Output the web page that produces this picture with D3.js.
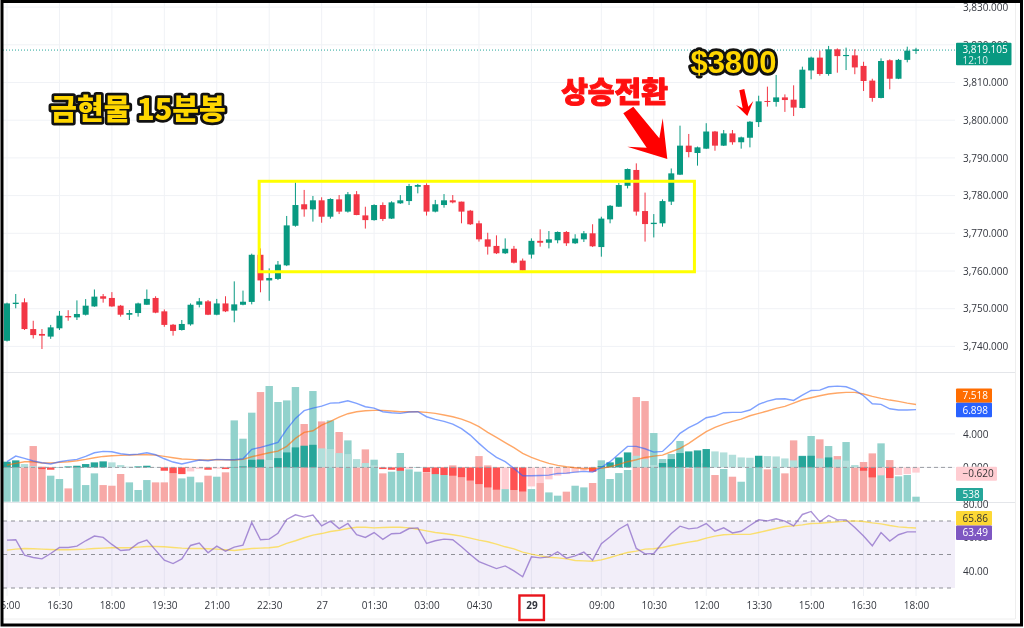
<!DOCTYPE html>
<html>
<head>
<meta charset="utf-8">
<script src="https://cdn.jsdelivr.net/npm/d3@7"></script>
<style>
  html, body { margin: 0; padding: 0; background: #fff; }
  svg { display: block; filter: blur(0.35px); }
  text { font-family: "Open Sans", "Noto Sans", sans-serif; }
</style>
</head>
<body>
<svg id="chart" width="1024" height="628"></svg>
<script>
// 15 minute candles
const opens = [3741.5,3751.25,3751.7,3744.6,3743.3,3742.6,3744.8,3748.05,3747.7,3748.4,3750.6,3753.3,3752.85,3750.8,3748.4,3748.85,3751.05,3752.85,3749.3,3745.75,3744.35,3745.85,3751.05,3751.95,3748.4,3751.4,3749.5,3751.05,3751.8,3764.3,3757.5,3757.9,3761.5,3772,3777.7,3776.35,3778.75,3774.4,3779,3775.75,3780.35,3774.75,3773.5,3777.5,3773.9,3777.95,3778.55,3782.35,3782.8,3775.75,3777.5,3778.75,3778.4,3776,3772.65,3768.4,3766.65,3764.7,3765.9,3762.75,3764.35,3768,3767.5,3768.15,3770.35,3767.35,3768.4,3770,3766.35,3773.7,3777.05,3782.6,3786.8,3775.9,3772.45,3772.65,3778.4,3785.55,3793.25,3791.3,3792.45,3797,3793.25,3796.5,3794.15,3795.35,3799.5,3805.1,3804.85,3806.05,3805.45,3803.25,3813.2,3816.6,3812.25,3818.8,3817,3817.2,3814.4,3810.5,3805.9,3815.9,3811,3816,3818.4];
const closes = [3751.4,3751.6,3744.6,3743,3742.85,3745.05,3748.15,3747.7,3748.6,3750.8,3753.2,3752.65,3750.6,3748.4,3748.85,3751.4,3752.6,3748.95,3745.7,3744.1,3745.95,3751.05,3751.95,3748.4,3751.4,3749.3,3751.15,3751.85,3764.3,3757.5,3758.15,3761.7,3772.1,3777.5,3776.35,3778.75,3774.4,3779.1,3775.75,3780.35,3774.85,3773.5,3777.5,3773.8,3778.2,3778.75,3782.55,3782.8,3775.75,3777.7,3778.75,3778.2,3775.75,3772.4,3768.4,3766.45,3764.7,3765.9,3762.2,3760.1,3768,3767.5,3768.4,3770.35,3767.35,3768.6,3770,3766.55,3773.9,3777.3,3782.8,3787.05,3775.75,3772.45,3772.8,3778.55,3785.9,3793.25,3791.55,3792.8,3797,3793.25,3796.5,3794.15,3795.45,3799.6,3805,3804.85,3806.05,3805.35,3803.35,3813.4,3816.6,3812.25,3818.8,3817,3817.3,3814,3810.4,3805.9,3815.7,3811,3816,3818.45,3818.75];
const highs = [3751.6,3753.9,3752.75,3746.8,3744.6,3745.7,3749.4,3749.6,3752.2,3752.55,3755.1,3753.9,3754.4,3751,3749.65,3751.6,3755.1,3753.3,3749.8,3745.95,3747,3751.4,3752.85,3752.3,3752.6,3753.3,3757.25,3754.8,3764.6,3766,3760.7,3762.65,3774.6,3783.5,3781.5,3779.9,3779.55,3779.3,3780.15,3780.95,3781.2,3777.05,3777.7,3778.2,3778.5,3780.15,3783.1,3783.1,3783.25,3778.85,3780.4,3780.15,3778.4,3776.2,3773.35,3770.15,3769.45,3768.65,3766.65,3763.3,3768.65,3771.05,3770.6,3770.5,3770.6,3769.75,3770.6,3772.4,3774.4,3777.5,3783.35,3787.2,3788.55,3780.8,3775.1,3779,3787.2,3798.55,3796.35,3793,3799.2,3797.15,3797.4,3797.4,3795.65,3799.8,3806.5,3808.9,3812,3806.85,3809.25,3814.2,3816.85,3818.45,3819.7,3819.05,3819.25,3818.8,3815.5,3811,3816.4,3816.15,3816.25,3819.5,3819.2];
const lows = [3741.3,3750.1,3744.35,3742.1,3739.3,3742,3744.35,3746.8,3747,3748.2,3750.5,3751.6,3750.5,3747.9,3747,3747.9,3751,3748.8,3745.2,3742.85,3744.2,3745.5,3750.35,3748.3,3748.25,3749.1,3746.4,3750.9,3751.15,3754.35,3752.1,3757.6,3761.3,3771.75,3774.4,3773.1,3772.8,3773.9,3775.1,3775.5,3774.8,3771.25,3773.35,3773.25,3773.8,3777.8,3777.5,3780.6,3774.7,3775.55,3776.8,3777.95,3772.65,3772.2,3767.8,3764.35,3764.5,3764.5,3762,3760.1,3763.3,3766.45,3766,3767.35,3766.65,3767.15,3767.7,3766.35,3763.8,3772.65,3777,3781.9,3774.7,3767.8,3768.9,3771.75,3777.5,3785.45,3790.15,3787.95,3792.35,3791.9,3793.15,3793.5,3792.45,3792.8,3798.2,3803.6,3803.6,3802.2,3801.1,3803.15,3810.85,3811.8,3811.8,3812.6,3813.3,3812.2,3807.75,3804.9,3805.8,3808.2,3810.9,3815.35,3817.6];
const volumes = [3950,4130,3690,5990,3770,2800,2440,1430,3770,1790,3050,1790,1720,2980,2080,1260,2330,2080,2080,3120,2510,2690,2080,2800,2690,3160,8750,6780,9580,11800,12450,10730,10900,12340,8360,11910,8640,8750,7500,6600,3690,5630,4520,3050,3230,5240,3480,3230,3160,2980,2870,3910,2620,2260,4910,3910,1360,1360,1260,1080,1360,2010,1000,650,1080,1720,1540,2010,4450,2440,3080,3410,11260,10830,7390,4590,5130,6530,3590,4130,4130,2870,3520,2690,2150,3690,4480,3480,3690,3050,6600,4950,7070,6710,5990,4910,6420,3690,4270,5200,6280,4480,2730,2870,538];

const macdHist = [0.68,0.84,0.40,0.16,-0.20,-0.28,0.04,0.12,0.20,0.40,0.60,0.72,0.60,0.28,0.08,0.12,0.20,0.02,-0.40,-0.68,-0.80,-0.48,-0.20,-0.28,-0.16,-0.20,0.04,0.12,0.91,0.95,0.88,1.11,1.79,2.39,2.59,2.70,2.27,2.19,1.71,1.59,0.99,0.52,0.24,-0.20,-0.28,-0.40,-0.16,0.04,-0.56,-0.80,-0.91,-0.99,-1.19,-1.59,-1.99,-2.39,-2.66,-2.59,-2.70,-2.90,-2.27,-1.87,-1.43,-0.99,-0.80,-0.60,-0.40,-0.52,0.16,0.60,1.19,1.79,1.39,0.99,0.28,0.52,0.99,1.71,1.91,2.03,2.19,1.91,1.79,1.51,1.19,1.15,1.39,1.35,1.31,1.07,0.84,1.35,1.39,1.07,1.19,0.95,0.80,0.28,-0.40,-1.19,-0.95,-1.27,-0.91,-0.80,-0.62];
const macdLine = [0.68,1.35,1.07,0.76,0.56,0.40,0.68,0.84,0.96,1.31,1.75,1.91,1.87,1.63,1.51,1.59,1.75,1.51,1.03,0.64,0.40,0.64,0.88,0.80,0.96,0.92,0.92,1.03,2.15,2.39,2.67,2.99,4.54,5.85,6.77,7.08,7.32,7.68,7.72,7.96,7.64,7.24,7.08,6.65,6.53,6.45,6.61,6.65,6.05,5.73,5.49,5.17,4.62,3.86,2.87,1.95,1.19,0.68,-0.12,-1.0,-1.0,-0.96,-0.92,-0.72,-0.68,-0.56,-0.48,-0.56,0,0.68,1.59,2.51,2.51,2.23,1.83,1.91,2.87,4.06,4.74,5.25,5.93,6.13,6.53,6.57,6.57,6.85,7.52,7.92,8.16,8.20,8.0,8.64,9.19,9.23,9.63,9.71,9.63,9.23,8.56,7.60,7.52,7.0,6.85,6.85,6.898];
const signalLine = [0.28,0.48,0.68,0.68,0.52,0.52,0.60,0.68,0.80,0.96,1.15,1.31,1.39,1.43,1.47,1.51,1.51,1.47,1.31,1.15,1.0,0.96,0.88,0.88,0.92,0.92,0.88,0.96,1.27,1.51,1.75,1.95,2.51,3.46,4.18,4.38,5.05,5.49,6.01,6.41,6.65,6.77,6.81,6.81,6.73,6.65,6.65,6.65,6.57,6.45,6.25,6.05,5.77,5.37,4.86,4.18,3.58,2.95,2.35,1.67,1.19,0.80,0.48,0.24,0.08,-0.04,-0.16,-0.12,-0.12,0.08,0.36,0.68,0.92,1.19,1.35,1.47,1.87,2.27,2.87,3.58,4.26,4.78,5.17,5.49,5.77,6.17,6.45,6.73,7.04,7.28,7.68,8.08,8.32,8.56,8.76,8.88,8.96,8.96,8.76,8.48,8.24,8.04,7.88,7.68,7.518];

const rsiLine = [58.6,58.8,49.6,48.2,47.4,50.6,54.2,54.2,55,58.2,61,60.2,56,52.4,52.8,56.8,58.6,52.6,46.6,44.6,47.4,55.4,56.8,51,55,52,54.4,55.6,69.1,58.8,59.2,62.7,70.9,73.7,72.3,73.5,67.1,69.9,65.5,68.5,61.8,60.2,63.1,59,62.4,62.7,65.5,65.9,56.6,58.2,59.2,58.8,54.6,50,45.8,43.6,41.6,43.2,40.2,36.7,48.6,48,48.6,51.6,47.8,49.2,51.4,46.6,56.4,60.6,65.1,68.1,53.6,50.4,50.6,57,62.5,66.9,65.3,65.9,68.5,63.9,65.9,62.9,63.9,67.3,70.7,70.1,71.3,69.9,67.1,73.9,75.7,69.5,73.3,70.7,70.7,66.1,61,55.2,63.1,58,61.8,63.5,63.49];
const rsiMa = [52.6,53.2,53.6,53.4,53.2,53,52.8,52.8,53,53.2,53.6,53.8,54,54,54,54.4,54.8,54.8,54.6,54.2,53.8,53.6,53.6,53.4,53.2,52.8,52.4,53,53.6,53.8,54,54.6,56.6,58.2,60,61.6,62.5,63.7,64.5,65.5,66.3,66.3,65.9,66.1,66.3,66.3,65.9,65.1,64.1,63.1,62.5,61.8,61,59.8,58.6,57.6,56.2,54.6,53.4,51.4,50.2,49.2,48.4,48,47.4,46.4,46.2,46,46.8,48.2,49.8,51.2,52,53.2,53.4,54.2,55.4,56.4,57.4,58.2,59.8,61,61.8,62,62,62,63.1,64.3,65.5,66.7,67.1,67.7,68.5,68.7,69.1,69.5,69.9,70.1,69.7,68.9,68.3,67.3,66.5,66.1,65.86];

const timeTickBars = [0,6,12,18,24,30,36,42,48,54,60,68,74,80,86,92,98,104];
const timeTickLabels = ['15:00','16:30','18:00','19:30','21:00','22:30','27','01:30','03:00','04:30','29','09:00','10:30','12:00','13:30','15:00','16:30','18:00'];
const priceTicks = [3740,3750,3760,3770,3780,3790,3800,3810,3820,3830];
const macdTicks = [0,4];
const rsiTicks = [40,60,80];
const rsiLevels = [70,50,30];
const lastPrice = 3818.6;

const paneRight = 955;
const colors = {up: '#089981', down: '#f23645', volUp: '#92d2cc', volDown: '#f7a9a7',
    histUp: '#26a69a', histUpFade: '#b2dfdb', histDownFade: '#ffcdd2', histDown: '#ff5252',
    macd: '#2962ff', signal: '#ff6d00', rsi: '#7e57c2', rsiMa: '#fdd835',
    grid: '#f0f2f6', axisText: '#33363e'};

const svg = d3.select('#chart');

const x = d3.scaleLinear().domain([0, 104]).range([7, 916]);
const y = d3.scaleLinear().domain([3740, 3830]).range([346.4, 7.1]);
const yVol = d3.scaleLinear().domain([0, 13000]).range([501.7, 380.9]);
const yMacd = d3.scaleLinear().domain([0, 4]).range([467.4, 433.9]);
const yRsi = d3.scaleLinear().domain([30, 70]).range([588, 521]);

const bars = d3.range(opens.length);

// grid
const gridG = svg.append('g').attr('stroke', colors.grid).attr('stroke-width', 1);
gridG.selectAll('line.v').data(timeTickBars).join('line').attr('class', 'v')
    .attr('x1', d => x(d)).attr('x2', d => x(d)).attr('y1', 3).attr('y2', 596);
gridG.selectAll('line.p').data(priceTicks).join('line').attr('class', 'p')
    .attr('x1', 3).attr('x2', paneRight).attr('y1', d => y(d)).attr('y2', d => y(d));
gridG.selectAll('line.m').data(macdTicks).join('line').attr('class', 'm')
    .attr('x1', 3).attr('x2', paneRight).attr('y1', d => yMacd(d)).attr('y2', d => yMacd(d));

// pane separators and inner frame
const sepG = svg.append('g').attr('stroke', '#e4e6ea').attr('stroke-width', 1);
[372.5, 502.5].forEach(v => sepG.append('line').attr('x1', 3).attr('x2', 1015).attr('y1', v).attr('y2', v));
sepG.append('line').attr('x1', 3).attr('x2', 1015).attr('y1', 619).attr('y2', 619).attr('stroke', '#eee');
sepG.append('line').attr('x1', 1015.5).attr('x2', 1015.5).attr('y1', 3).attr('y2', 619).attr('stroke', '#eee');

// last price line
svg.append('line')
    .attr('x1', 3).attr('x2', paneRight).attr('y1', y(lastPrice)).attr('y2', y(lastPrice))
    .attr('stroke', '#26a69a').attr('stroke-width', 1).attr('stroke-dasharray', '1 2');

// candles
const candleG = svg.append('g');
candleG.selectAll('line').data(bars).join('line')
    .attr('x1', d => x(d)).attr('x2', d => x(d))
    .attr('y1', d => y(highs[d])).attr('y2', d => y(lows[d]))
    .attr('stroke', d => closes[d] >= opens[d] ? colors.up : colors.down)
    .attr('stroke-width', 1);
candleG.selectAll('rect').data(bars).join('rect')
    .attr('x', d => x(d) - 3)
    .attr('width', 6)
    .attr('y', d => y(Math.max(opens[d], closes[d])))
    .attr('height', d => Math.max(1, Math.abs(y(opens[d]) - y(closes[d]))))
    .attr('fill', d => closes[d] >= opens[d] ? colors.up : colors.down);

// volume, then macd histogram over it
svg.append('g').selectAll('rect').data(bars).join('rect')
    .attr('x', d => x(d) - 3.7)
    .attr('width', 7.4)
    .attr('y', d => yVol(volumes[d]))
    .attr('height', d => yVol(0) - yVol(volumes[d]))
    .attr('fill', d => closes[d] >= opens[d] ? colors.volUp : colors.volDown);

function histColor(d) {
    const rising = d > 0 && macdHist[d] > macdHist[d - 1];
    if (macdHist[d] >= 0) return rising || d === 0 ? colors.histUp : colors.histUpFade;
    return rising ? colors.histDownFade : colors.histDown;
}
svg.append('g').selectAll('rect').data(bars).join('rect')
    .attr('x', d => x(d) - 3.7)
    .attr('width', 7.4)
    .attr('y', d => Math.min(yMacd(0), yMacd(macdHist[d])))
    .attr('height', d => Math.abs(yMacd(macdHist[d]) - yMacd(0)))
    .attr('fill', histColor);

svg.append('line')
    .attr('x1', 3).attr('x2', paneRight).attr('y1', yMacd(0)).attr('y2', yMacd(0))
    .attr('stroke', '#9a9ca3').attr('stroke-dasharray', '4 3').attr('stroke-width', 1);

const macdPath = d3.line().x((v, i) => x(i)).y(v => yMacd(v));
svg.append('path').attr('d', macdPath(signalLine)).attr('fill', 'none')
    .attr('stroke', colors.signal).attr('stroke-width', 1.4).attr('opacity', 0.6);
svg.append('path').attr('d', macdPath(macdLine)).attr('fill', 'none')
    .attr('stroke', colors.macd).attr('stroke-width', 1.4).attr('opacity', 0.6);

// rsi pane
svg.append('rect')
    .attr('x', 3).attr('width', paneRight - 3)
    .attr('y', yRsi(70)).attr('height', yRsi(30) - yRsi(70))
    .attr('fill', colors.rsi).attr('opacity', 0.1);
svg.append('g').selectAll('line').data(rsiLevels).join('line')
    .attr('x1', 3).attr('x2', paneRight).attr('y1', d => yRsi(d)).attr('y2', d => yRsi(d))
    .attr('stroke', '#8f9097').attr('stroke-dasharray', '4 4').attr('stroke-width', 1);
const rsiPath = d3.line().x((v, i) => x(i)).y(v => yRsi(v));
svg.append('path').attr('d', rsiPath(rsiMa)).attr('fill', 'none')
    .attr('stroke', colors.rsiMa).attr('stroke-width', 1.4).attr('opacity', 0.7);
svg.append('path').attr('d', rsiPath(rsiLine)).attr('fill', 'none')
    .attr('stroke', colors.rsi).attr('stroke-width', 1.4).attr('opacity', 0.65);

// axes
function styleAxis(g) {
    g.select('.domain').remove();
    g.selectAll('text').attr('fill', colors.axisText).style('font-size', '10px');
}
const axisX = 960;
svg.append('g').attr('transform', `translate(${axisX},0)`)
    .call(d3.axisRight(y).tickValues(priceTicks).tickSize(0).tickFormat(d3.format(',.3f')))
    .call(styleAxis);
svg.append('g').attr('transform', `translate(${axisX},0)`)
    .call(d3.axisRight(yMacd).tickValues(macdTicks).tickSize(0).tickFormat(d3.format('.3f')))
    .call(styleAxis);
svg.append('g').attr('transform', `translate(${axisX},0)`)
    .call(d3.axisRight(yRsi).tickValues(rsiTicks).tickSize(0).tickFormat(d3.format('.2f')))
    .call(styleAxis);
svg.append('g').attr('transform', 'translate(0,597)')
    .call(d3.axisBottom(x).tickValues(timeTickBars).tickSize(0).tickPadding(5)
        .tickFormat((d, i) => timeTickLabels[i]))
    .call(styleAxis)
    .selectAll('text')
    .style('font-weight', (d, i) => timeTickLabels[i] === '29' ? 700 : 400);

// value badges on the right
const badges = [
    {t: '3,819.105', sub: '12:10', top: 42.7, h: 22.5, w: 55.5, fill: colors.up, ink: '#fff'},
    {t: '7.518', top: 388.4, h: 14.4, w: 36, fill: '#ff6d00', ink: '#fff'},
    {t: '6.898', top: 402.8, h: 14.4, w: 36, fill: '#2962ff', ink: '#fff'},
    {t: '\u22120.620', top: 466.7, h: 14, w: 41, fill: '#ffcdd2', ink: '#333'},
    {t: '538', top: 488, h: 13, w: 27, fill: '#26a69a', ink: '#fff'},
    {t: '65.86', top: 511, h: 14.5, w: 36, fill: '#fdd835', ink: '#333'},
    {t: '63.49', top: 525.5, h: 14.5, w: 36, fill: '#7e57c2', ink: '#fff'}
];
const badgeG = svg.append('g').selectAll('g').data(badges).join('g')
    .attr('transform', d => `translate(956,${d.top})`);
badgeG.append('rect').attr('width', d => d.w).attr('height', d => d.h).attr('rx', 1).attr('fill', d => d.fill);
badgeG.append('text').attr('x', 6.5).attr('y', d => d.sub ? 10.5 : d.h / 2 + 3.5)
    .attr('fill', d => d.ink).attr('font-size', 10).text(d => d.t);
badgeG.filter(d => d.sub).append('text').attr('x', 6.5).attr('y', 21.5)
    .attr('fill', 'rgba(255,255,255,0.85)').attr('font-size', 10).text(d => d.sub);

// annotations drawn over the chart
svg.append('rect')
    .attr('x', x(28.85)).attr('width', x(78.65) - x(28.85))
    .attr('y', y(3783.8)).attr('height', y(3759.8) - y(3783.8))
    .attr('fill', 'none').attr('stroke', '#ffff00').attr('stroke-width', 3);

const arrowMarks = [
    [[633.3,106.7],[659.3,138.3],[662.7,118.3],[667.3,159],[627.3,146.7],[646.7,147.7],[623.3,113.3]],
    [[744.3,89],[748.3,106.7],[753.3,101],[747.3,116],[736,105],[742.7,108.3],[739.3,90.3]]
];
svg.append('g').selectAll('polygon').data(arrowMarks).join('polygon')
    .attr('points', d => d.join(' ')).attr('fill', '#ff0000');

const notes = [
    {t: '금현물 15분봉', x: 138, y: 120, size: 29, fill: '#ffd600', stroke: '#111', sw: 5.5, font: '"Noto Sans CJK KR"'},
    {t: '상승전환', x: 614.5, y: 103, size: 29, fill: '#ff1010', stroke: '#ff1010', sw: 1, font: '"Noto Sans CJK KR"'},
    {t: '$3800', x: 733.5, y: 73, size: 31, fill: '#ffd600', stroke: '#111', sw: 5.5, font: '"Liberation Sans"'}
];
svg.append('g').selectAll('text').data(notes).join('text')
    .attr('x', d => d.x).attr('y', d => d.y)
    .attr('text-anchor', 'middle')
    .style('font-family', d => d.font + ', sans-serif')
    .style('font-weight', 900)
    .style('paint-order', 'stroke')
    .attr('font-size', d => d.size)
    .attr('fill', d => d.fill)
    .attr('stroke', d => d.stroke)
    .attr('stroke-width', d => d.sw)
    .attr('stroke-linejoin', 'round')
    .text(d => d.t);

// red box around the 29 label
svg.append('rect')
    .attr('x', x(60) - 12).attr('width', 24.5).attr('y', 595.5).attr('height', 24.5)
    .attr('fill', 'none').attr('stroke', '#e8141c').attr('stroke-width', 2.4);

// black picture frame
svg.append('rect')
    .attr('x', 2).attr('y', 1.5).attr('width', 1019.5).attr('height', 623.5)
    .attr('fill', 'none').attr('stroke', '#000').attr('stroke-width', 3);
</script>
</body>
</html>
